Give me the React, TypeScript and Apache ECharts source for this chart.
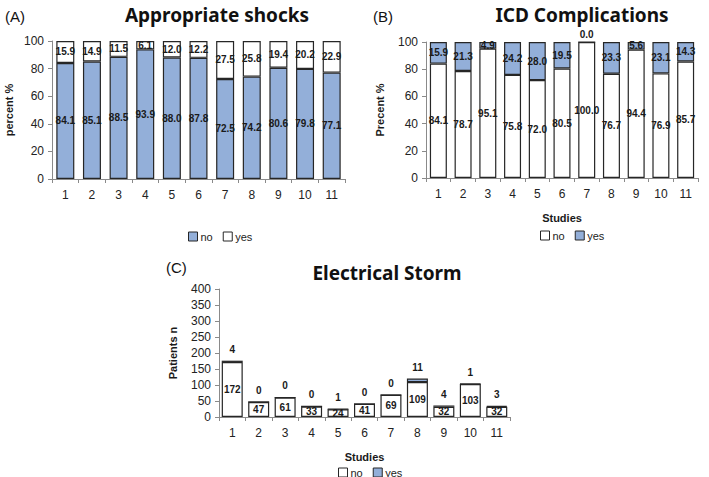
import React, { useEffect, useRef } from "react";
import * as echarts from "echarts";

const studies = ["1", "2", "3", "4", "5", "6", "7", "8", "9", "10", "11"];

// (A) Appropriate shocks (percent)
const shocksNo = [84.1, 85.1, 88.5, 93.9, 88.0, 87.8, 72.5, 74.2, 80.6, 79.8, 77.1];
const shocksYes = [15.9, 14.9, 11.5, 6.1, 12.0, 12.2, 27.5, 25.8, 19.4, 20.2, 22.9];

// (B) ICD Complications (percent)
const complNo = [84.1, 78.7, 95.1, 75.8, 72.0, 80.5, 100.0, 76.7, 94.4, 76.9, 85.7];
const complYes = [15.9, 21.3, 4.9, 24.2, 28.0, 19.5, 0.0, 23.3, 5.6, 23.1, 14.3];

// (C) Electrical Storm (patients n)
const stormNo = [172, 47, 61, 33, 24, 41, 69, 109, 32, 103, 32];
const stormYes = [4, 0, 0, 0, 1, 0, 0, 11, 4, 1, 3];

const BLUE = "#93AFD9";
const WHITE = "#ffffff";
const EDGE = "#262626";
const AXIS = "#8a8a8a";
const TXT = "#1a1a1a";

const labelFont = {
  fontFamily: "Liberation Sans",
  fontWeight: "bold" as const,
  fontSize: 10,
  color: TXT,
};

export default function App() {
  const ref = useRef<HTMLDivElement>(null);
  useEffect(() => {
    if (!ref.current) return;
    const chart = echarts.init(ref.current, null, { renderer: "svg" });

    const grids = [
      { left: 52, top: 41, width: 293, height: 138 },
      { left: 426, top: 42, width: 272, height: 136 },
      { left: 219, top: 289, width: 291, height: 128 },
    ];

    const xAxes = grids.map((_, i) => ({
      type: "category",
      gridIndex: i,
      data: studies,
      name: i === 0 ? "" : "Studies",
      nameLocation: "middle",
      nameGap: 34,
      nameTextStyle: { fontFamily: "Liberation Sans", fontWeight: "bold", fontSize: 11, color: TXT },
      axisLine: { lineStyle: { color: AXIS, width: 1 } },
      axisTick: { show: true, interval: 0, length: 4, lineStyle: { color: AXIS } },
      axisLabel: { fontFamily: "Liberation Sans", fontSize: 12, color: "#222", margin: 10, interval: 0 },
    }));

    const yNames = ["percent %", "Precent %", "Patients n"];
    const yAxes = grids.map((_, i) => ({
      type: "value",
      gridIndex: i,
      min: 0,
      max: i === 2 ? 400 : 100,
      interval: i === 2 ? 50 : 20,
      name: yNames[i],
      nameLocation: "middle",
      nameGap: i === 0 ? 38 : 41,
      nameTextStyle: { fontFamily: "Liberation Sans", fontWeight: "bold", fontSize: 11, color: TXT },
      axisLine: { show: true, lineStyle: { color: AXIS, width: 1 } },
      axisTick: { show: true, length: 4, lineStyle: { color: AXIS } },
      splitLine: { show: false },
      axisLabel: { fontFamily: "Liberation Sans", fontSize: 12, color: "#222", margin: 8 },
    }));

    const fmt1 = (p: any) => Number(p.value).toFixed(1);

    const series: any[] = [
      {
        name: "no",
        type: "bar",
        xAxisIndex: 0,
        yAxisIndex: 0,
        stack: "a",
        barWidth: 18,
        data: shocksNo,
        itemStyle: { color: BLUE, borderColor: EDGE, borderWidth: 1.2 },
        label: { show: true, position: "inside", formatter: fmt1, ...labelFont },
      },
      {
        name: "yes",
        type: "bar",
        xAxisIndex: 0,
        yAxisIndex: 0,
        stack: "a",
        barWidth: 18,
        data: shocksYes,
        itemStyle: { color: WHITE, borderColor: EDGE, borderWidth: 1.2 },
        label: { show: true, position: "inside", formatter: fmt1, ...labelFont },
      },
      {
        name: "no",
        type: "bar",
        xAxisIndex: 1,
        yAxisIndex: 1,
        stack: "b",
        barWidth: 17,
        data: complNo,
        itemStyle: { color: WHITE, borderColor: EDGE, borderWidth: 1.2 },
        label: { show: true, position: "inside", formatter: fmt1, ...labelFont },
      },
      {
        name: "yes",
        type: "bar",
        xAxisIndex: 1,
        yAxisIndex: 1,
        stack: "b",
        barWidth: 17,
        data: complYes.map((v) =>
          v === 0 ? { value: v, label: { position: "top", distance: 2 } } : v
        ),
        itemStyle: { color: BLUE, borderColor: EDGE, borderWidth: 1.2 },
        label: { show: true, position: "inside", formatter: fmt1, ...labelFont },
      },
      {
        name: "no",
        type: "bar",
        xAxisIndex: 2,
        yAxisIndex: 2,
        stack: "c",
        barWidth: 21,
        data: stormNo,
        itemStyle: { color: WHITE, borderColor: EDGE, borderWidth: 1.2 },
        label: { show: true, position: "inside", ...labelFont },
      },
      {
        name: "yes",
        type: "bar",
        xAxisIndex: 2,
        yAxisIndex: 2,
        stack: "c",
        barWidth: 21,
        data: stormYes,
        itemStyle: { color: BLUE, borderColor: EDGE, borderWidth: 1.2 },
        label: { show: true, position: "top", distance: 6, ...labelFont },
      },
    ];

    const legendText = { fontFamily: "Liberation Sans", fontSize: 11, color: "#222", padding: [0, 0, 0, -2] };
    const mkLegend = (noColor: string, yesColor: string, left: number, top: number) => ({
      left,
      top,
      orient: "horizontal",
      itemWidth: 9,
      itemHeight: 9,
      itemGap: 10,
      icon: "rect",
      textStyle: legendText,
      data: [
        { name: "no", itemStyle: { color: noColor, borderColor: EDGE, borderWidth: 1 } },
        { name: "yes", itemStyle: { color: yesColor, borderColor: EDGE, borderWidth: 1 } },
      ],
    });

    const titleStyle = { fontFamily: "Noto Sans", fontWeight: "bold", fontSize: 19, color: "#111" };
    const tagStyle = { fontFamily: "Liberation Sans", fontWeight: "normal", fontSize: 15, color: "#111" };

    chart.setOption({
      animation: false,
      backgroundColor: "#ffffff",
      title: [
        { text: "Appropriate shocks", left: 212, top: 0, textAlign: "center", textStyle: titleStyle },
        { text: "ICD Complications", left: 577, top: 0, textAlign: "center", textStyle: titleStyle },
        { text: "Electrical Storm", left: 382, top: 258, textAlign: "center", textStyle: titleStyle },
        { text: "(A)", left: 0, top: 4, textStyle: tagStyle },
        { text: "(B)", left: 368, top: 4, textStyle: tagStyle },
        { text: "(C)", left: 161, top: 255, textStyle: tagStyle },
      ],
      legend: [
        mkLegend(BLUE, WHITE, 183, 226),
        mkLegend(WHITE, BLUE, 535, 225),
        mkLegend(WHITE, BLUE, 333, 462),
      ],
      grid: grids,
      xAxis: xAxes,
      yAxis: yAxes,
      series,
    });

    return () => chart.dispose();
  }, []);

  return (
    <div
      ref={ref}
      style={{ position: "absolute", left: 0, top: 0, width: 709, height: 477 }}
    />
  );
}
